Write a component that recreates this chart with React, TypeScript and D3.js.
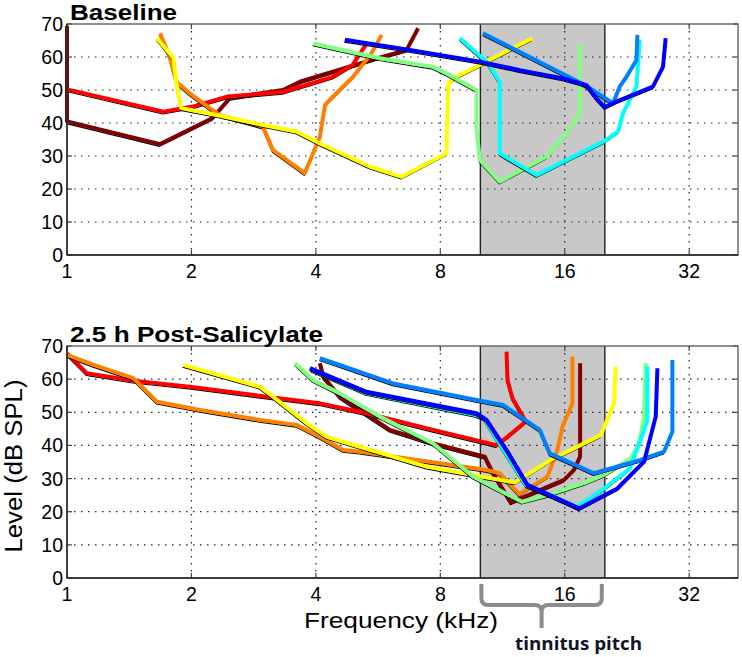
import React from 'react';
import * as d3 from 'd3';

type Pt = [number, number];

// ---- axis / annotation data ----
const FREQ_TICKS = [1, 2, 4, 8, 16, 32];
const LEVEL_TICKS = [0, 10, 20, 30, 40, 50, 60, 70];
const LEVEL_GRID = [10, 20, 30, 40, 50, 60];
const FREQ_GRID = [2, 4, 8, 16, 32];
const FREQ_DOMAIN: [number, number] = [1, 42];
const LEVEL_DOMAIN: [number, number] = [0, 70];
const TINNITUS_BAND: [number, number] = [10, 20];

// ---- jet colours (one per animal / unit) ----
const COLOR_DARKRED = '#800000';
const COLOR_RED = '#ff0000';
const COLOR_ORANGE = '#ff8000';
const COLOR_YELLOW = '#ffff00';
const COLOR_GREEN = '#80ff80';
const COLOR_CYAN = '#00ffff';
const COLOR_SKYBLUE = '#0080ff';
const COLOR_BLUE = '#0000ff';

// ---- Baseline tuning curves: [freq kHz, level dB SPL] ----
const baselineDarkRed: Pt[] = [[1, 69.5], [1, 40.5], [1.68, 33.6], [2.25, 41.5], [2.48, 47.6], [3.33, 50], [3.66, 52.5], [5.61, 59.6], [6.63, 62.1], [7.07, 68.7]];
const baselineRed: Pt[] = [[1, 50.2], [1.71, 43.4], [2.02, 45], [2.44, 48], [3.33, 49.4], [4.4, 54], [4.91, 57.6], [5.3, 64]];
const baselineOrange: Pt[] = [[1.68, 67.2], [1.77, 60.1], [1.84, 52.5], [1.98, 49], [2.34, 42.4], [2.98, 38.9], [3.15, 31.8], [3.76, 24.8], [4.09, 35.8], [4.21, 45.5], [4.36, 47.5], [4.92, 54], [5.45, 61.1], [5.77, 66.7]];
const baselineYellow: Pt[] = [[1.65, 65.7], [1.81, 59.6], [1.84, 52], [1.89, 44.5], [2.3, 42.4], [2.98, 39.4], [3.59, 37.4], [4.09, 33.8], [5.4, 26.8], [6.45, 23.7], [8.28, 30.8], [8.36, 52], [8.75, 54], [9.97, 57.6], [13.36, 65.7]];
const baselineGreen: Pt[] = [[3.94, 64.1], [5.71, 59.6], [7.69, 57], [8.28, 55], [9.79, 50], [9.79, 37.9], [9.97, 28.8], [11.14, 22.2], [14.45, 29.8], [16.16, 36.9], [17.4, 42.9], [17.4, 64.1]];
const baselineCyan: Pt[] = [[8.92, 65.7], [10.44, 58.1], [11.14, 52.5], [11.14, 30.8], [13.67, 24.2], [19.81, 34.3], [21.53, 37.4], [22.13, 42.9], [23.85, 51], [24.29, 65.2]];
const baselineSkyBlue: Pt[] = [[10.15, 67.2], [17.89, 51.5], [20.94, 46], [21.73, 51], [22.56, 54], [23.85, 59], [23.98, 66.7]];
const baselineBlue: Pt[] = [[4.7, 65.2], [6.75, 62.1], [9.97, 58.6], [12.46, 56], [15.85, 53.5], [18.05, 51.5], [19.09, 47.5], [19.99, 44.8], [21.33, 46.5], [26.15, 51], [27.66, 57], [28.07, 65.7]];

// ---- 2.5 h post-salicylate tuning curves ----
const postDarkRed: Pt[] = [[4.09, 64.8], [4.17, 60.7], [4.57, 54.7], [5.11, 50.7], [6.04, 44.7], [7.69, 40.6], [10.25, 36.6], [10.73, 31.6], [11.85, 22.8], [12.76, 24.5], [15.94, 29.6], [16.85, 32.6], [17.43, 36.6], [17.43, 64.8]];
const postRed: Pt[] = [[1, 67.8], [1.116, 61.8], [1.447, 59.5], [1.98, 57.7], [3.04, 54.7], [4.09, 52.7], [5.3, 49.7], [7.69, 44.7], [10.94, 40.1], [11.63, 42.6], [12.88, 47.2], [11.96, 54.2], [11.63, 59.7], [11.57, 68.3]];
const postOrange: Pt[] = [[1, 67.3], [1.16, 64.3], [1.447, 60.3], [1.65, 53.2], [2.1, 50.7], [2.93, 47.7], [3.59, 46.2], [4.09, 42.6], [4.66, 38.6], [5.11, 38.1], [10.35, 32.6], [11.14, 31.6], [12.41, 25.3], [14.53, 30.6], [15.36, 38.6], [15.8, 45.7], [16.7, 52.7], [16.7, 66.8]];
const postYellow: Pt[] = [[1.91, 64.3], [2.93, 57.7], [3.15, 54.7], [3.8, 46.7], [4.25, 42.6], [5.11, 39.6], [7.41, 33.6], [12.11, 28.8], [14.8, 35.6], [19.55, 43.1], [21.06, 52.7], [21.25, 63.8]];
const postGreen: Pt[] = [[3.56, 64.8], [3.94, 59.7], [4.57, 55.7], [5.71, 48.7], [7.69, 40.6], [9.6, 30.6], [12.6, 23], [14.53, 25], [17.81, 28.6], [19.92, 31.1], [23.1, 36.1], [24.2, 40.6], [24.89, 48.7], [25.12, 64.8]];
const postCyan: Pt[] = [[3.9, 62.8], [5.3, 55.8], [9.75, 49.2], [10.2, 48.2], [11.5, 37.7], [12.9, 28], [17.15, 21.5], [19.92, 27], [22.98, 33], [24.4, 41.6], [25.35, 47.7], [25.35, 63.8]];
const postSkyBlue: Pt[] = [[4.09, 66.3], [6.15, 58.7], [9.79, 53.7], [11.35, 52.2], [13.92, 44.7], [14.72, 37.6], [18.83, 31.6], [24.4, 35.6], [27.81, 38.1], [29.14, 44.1], [29.14, 65.8]];
const postBlue: Pt[] = [[3.87, 63.3], [5.3, 56.2], [9.79, 49.7], [10.35, 47.7], [11.57, 38.6], [13.0, 28.1], [17.33, 21], [21.45, 27], [24.89, 35.1], [26.56, 48.7], [26.81, 63.3]];

const baselineSeries = [
  { color: COLOR_DARKRED, pts: baselineDarkRed },
  { color: COLOR_RED, pts: baselineRed },
  { color: COLOR_ORANGE, pts: baselineOrange },
  { color: COLOR_YELLOW, pts: baselineYellow },
  { color: COLOR_GREEN, pts: baselineGreen },
  { color: COLOR_CYAN, pts: baselineCyan },
  { color: COLOR_SKYBLUE, pts: baselineSkyBlue },
  { color: COLOR_BLUE, pts: baselineBlue },
];
const postSeries = [
  { color: COLOR_DARKRED, pts: postDarkRed },
  { color: COLOR_RED, pts: postRed },
  { color: COLOR_ORANGE, pts: postOrange },
  { color: COLOR_YELLOW, pts: postYellow },
  { color: COLOR_GREEN, pts: postGreen },
  { color: COLOR_CYAN, pts: postCyan },
  { color: COLOR_SKYBLUE, pts: postSkyBlue },
  { color: COLOR_BLUE, pts: postBlue },
];

const W = 742;
const H = 657;
const LEFT = 67;
const RIGHT = 738;
const FONT = "'Liberation Sans', Arial, sans-serif";

const x = d3.scaleLog().base(2).domain(FREQ_DOMAIN).range([LEFT, RIGHT]);

function Panel({ title, titleLen, series, top, bottom }: { title: string; titleLen: number; series: { color: string; pts: Pt[] }[]; top: number; bottom: number }) {
  const y = d3.scaleLinear().domain(LEVEL_DOMAIN).range([bottom, top]);
  const line = d3.line<Pt>().x((d) => x(d[0])).y((d) => y(d[1]));
  const tick = 5;
  return (
    <g>
      <rect x={LEFT} y={top} width={RIGHT - LEFT} height={bottom - top} fill="#fff" />
      <rect x={x(TINNITUS_BAND[0])} y={top} width={x(TINNITUS_BAND[1]) - x(TINNITUS_BAND[0])} height={bottom - top} fill="#c8c8c8" />
      {LEVEL_GRID.map((v) => (
        <line key={'gy' + v} x1={LEFT} x2={RIGHT} y1={y(v)} y2={y(v)} stroke="#222" strokeWidth={1.2} strokeDasharray="1.5,5.5" />
      ))}
      {FREQ_GRID.map((f) => (
        <line key={'gx' + f} x1={x(f)} x2={x(f)} y1={top} y2={bottom} stroke="#222" strokeWidth={1.2} strokeDasharray="1.5,5.5" />
      ))}
      {TINNITUS_BAND.map((f) => (
        <line key={'b' + f} x1={x(f)} x2={x(f)} y1={top} y2={bottom} stroke="#222" strokeWidth={1.4} />
      ))}
      {series.map((s, i) => (
        <g key={i}>
          <path d={line(s.pts) || ''} fill="none" stroke="#000" strokeWidth={1.2} transform="translate(-0.5,2.2)" strokeLinejoin="round" />
          <path d={line(s.pts) || ''} fill="none" stroke={s.color} strokeWidth={4} strokeLinejoin="round" strokeLinecap="butt" />
        </g>
      ))}
      {LEVEL_TICKS.map((v) => (
        <g key={'ty' + v}>
          <line x1={LEFT} x2={LEFT + tick} y1={y(v)} y2={y(v)} stroke="#444" strokeWidth={1.2} />
          <line x1={RIGHT - tick} x2={RIGHT} y1={y(v)} y2={y(v)} stroke="#444" strokeWidth={1.2} />
          <text x={LEFT - 4} y={y(v)} textAnchor="end" dominantBaseline="central" fontSize={19.5} fontFamily={FONT} fill="#000">{v}</text>
        </g>
      ))}
      {FREQ_TICKS.map((f) => (
        <g key={'tx' + f}>
          <line x1={x(f)} x2={x(f)} y1={bottom} y2={bottom - tick} stroke="#444" strokeWidth={1.2} />
          <line x1={x(f)} x2={x(f)} y1={top} y2={top + tick} stroke="#444" strokeWidth={1.2} />
          <text x={x(f)} y={bottom + 16} textAnchor="middle" dominantBaseline="central" fontSize={19.5} fontFamily={FONT} fill="#000">{f}</text>
        </g>
      ))}
      <rect x={LEFT} y={top} width={RIGHT - LEFT} height={bottom - top} fill="none" stroke="#555" strokeWidth={1.3} />
      <line x1={LEFT} x2={LEFT} y1={top} y2={bottom} stroke="#222" strokeWidth={1.4} />
      <line x1={LEFT} x2={RIGHT} y1={bottom} y2={bottom} stroke="#222" strokeWidth={1.4} />
      <text x={70} y={top - 4.5} fontSize={22.5} fontWeight="bold" fontFamily={FONT} fill="#000" textLength={titleLen} lengthAdjust="spacingAndGlyphs">{title}</text>
    </g>
  );
}

export default function App() {
  const bx0 = x(TINNITUS_BAND[0]) + 1;
  const bx1 = x(TINNITUS_BAND[1]) - 3;
  const bmid = (bx0 + bx1) / 2;
  const r = 7;
  const braceTop = 584;
  const braceY = 605;
  const bracePath = `M${bx0},${braceTop} V${braceY - r} Q${bx0},${braceY} ${bx0 + r},${braceY} H${bmid - r} Q${bmid},${braceY} ${bmid},${braceY + r} V628 M${bmid},${braceY + r} Q${bmid},${braceY} ${bmid + r},${braceY} H${bx1 - r} Q${bx1},${braceY} ${bx1},${braceY - r} V${braceTop}`;
  return (
    <svg width={W} height={H} style={{ position: 'absolute', left: 0, top: 0, background: '#fff' }}>
      <rect x={0} y={0} width={W} height={H} fill="#fff" />
      <Panel title="Baseline" titleLen={107} series={baselineSeries} top={24} bottom={255} />
      <Panel title="2.5 h Post-Salicylate" titleLen={253} series={postSeries} top={346} bottom={578} />
      <text transform="translate(22,466) rotate(-90)" textAnchor="middle" fontSize={23} fontFamily={FONT} fill="#000" textLength={173} lengthAdjust="spacingAndGlyphs">Level (dB SPL)</text>
      <text x={304} y={628} fontSize={22} fontFamily={FONT} fill="#000" textLength={194} lengthAdjust="spacingAndGlyphs">Frequency (kHz)</text>
      <path d={bracePath} fill="none" stroke="#8c8c8c" strokeWidth={4} strokeLinecap="butt" />
      <text x={515} y={650} fontSize={17} fontWeight="bold" fontFamily="'Open Sans', 'Noto Sans', sans-serif" fill="#141428" textLength={127} lengthAdjust="spacingAndGlyphs">tinnitus pitch</text>
    </svg>
  );
}
